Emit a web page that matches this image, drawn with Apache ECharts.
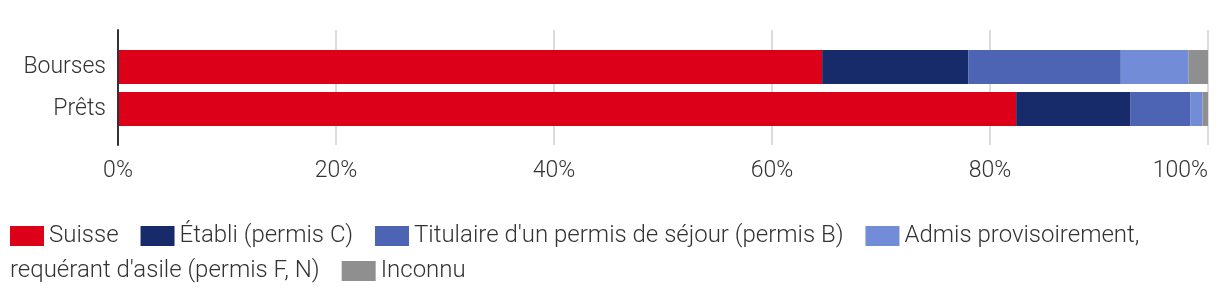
<!DOCTYPE html>
<html>
<head>
<meta charset="utf-8">
<style>
  html, body { margin: 0; padding: 0; background: #ffffff; }
  #chart { width: 1220px; height: 302px; }
</style>
<script src="https://cdn.jsdelivr.net/npm/echarts@6/dist/echarts.min.js"></script>
</head>
<body>
<div id="chart"></div>
<script>
// Répartition par statut de séjour, en % de chaque type d'aide
const categories = ['Bourses', 'Prêts'];
const seriesNames = [
  'Suisse',
  'Établi (permis C)',
  'Titulaire d\'un permis de séjour (permis B)',
  'Admis provisoirement, requérant d\'asile (permis F, N)',
  'Inconnu'
];
const suisse     = [64.6, 82.4];
const etabli     = [13.4, 10.5];
const permisB    = [14.0, 5.5];
const admisFN    = [6.2, 1.1];
const inconnu    = [1.8, 0.5];
const xTicks = [0, 20, 40, 60, 80, 100];

const colors = ['#dc0018', '#172a69', '#4c64b3', '#728cd8', '#8f8f8f'];
const values = [suisse, etabli, permisB, admisFN, inconnu];

const FONT = 'Roboto, "Noto Sans", sans-serif';
const TEXT = '#333333';

const chart = echarts.init(document.getElementById('chart'), null, { renderer: 'canvas' });

const series = seriesNames.map((name, i) => ({
  name: name,
  type: 'bar',
  stack: 'total',
  xAxisIndex: 1,
  yAxisIndex: 1,
  barWidth: 34,
  itemStyle: { color: colors[i] },
  emphasis: { disabled: true },
  data: values[i]
}));

const legendText = {
  fontFamily: FONT,
  fontSize: 24,
  fontWeight: 300,
  color: TEXT
};

const legendBase = {
  orient: 'horizontal',
  padding: 0,
  itemWidth: 34,
  itemHeight: 20,
  itemGap: 22,
  icon: 'rect',
  textStyle: legendText
};

chart.setOption({
  animation: false,
  textStyle: { fontFamily: FONT },
  grid: [
    // frame grid: axis line, split lines and tick labels
    { left: 118, right: 12, top: 30, height: 115, containLabel: false },
    // bar grid
    { left: 118, right: 12, top: 46, height: 84, containLabel: false }
  ],
  xAxis: [
    {
      gridIndex: 0,
      type: 'value',
      min: xTicks[0],
      max: xTicks[xTicks.length - 1],
      interval: 20,
      axisLine: { show: false },
      axisTick: { show: false },
      splitLine: { show: true, lineStyle: { color: '#d0d0d0', width: 1.5 } },
      axisLabel: {
        margin: 15,
        fontFamily: FONT,
        fontSize: 23,
        fontWeight: 300,
        color: TEXT,
        alignMaxLabel: 'right',
        formatter: v => v + '%'
      }
    },
    {
      gridIndex: 1,
      type: 'value',
      min: 0,
      max: 100,
      show: false
    }
  ],
  yAxis: [
    {
      gridIndex: 0,
      type: 'category',
      data: [''],
      z: 5,
      axisLine: { show: true, lineStyle: { color: '#333333', width: 2 } },
      axisTick: { show: false },
      axisLabel: { show: false },
      splitLine: { show: false }
    },
    {
      gridIndex: 1,
      type: 'category',
      inverse: true,
      data: categories,
      axisLine: { show: false },
      axisTick: { show: false },
      axisLabel: {
        margin: 12,
        fontFamily: FONT,
        fontSize: 23,
        fontWeight: 300,
        color: TEXT
      }
    }
  ],
  legend: [
    Object.assign({}, legendBase, {
      left: 10,
      top: 224,
      data: seriesNames.slice(0, 4),
      formatter: name => name === seriesNames[3] ? 'Admis provisoirement,' : name
    }),
    Object.assign({}, legendBase, {
      left: -29,
      top: 259,
      data: [{ name: seriesNames[3], icon: 'none' }, seriesNames[4]],
      formatter: name => name === seriesNames[3] ? 'requérant d\'asile (permis F, N)' : name
    })
  ],
  series: series
});
</script>
</body>
</html>
